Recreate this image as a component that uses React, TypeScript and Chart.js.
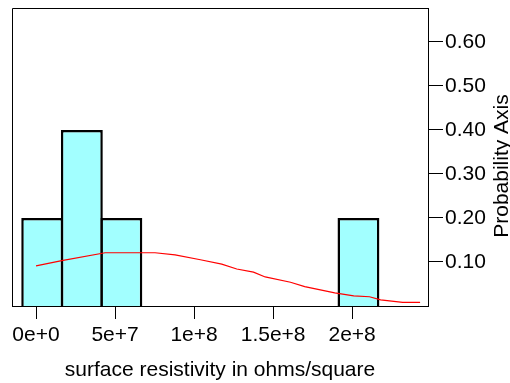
import React, { useEffect, useRef } from "react";
import { Chart, registerables } from "chart.js";
Chart.register(...registerables);

// Histogram bins (centers, equal width) and their probabilities
const binCenters = [3.9e6, 2.9e7, 5.4e7, 2.04e8];
const binProbabilities = [0.2, 0.4, 0.2, 0.2];

// Fitted density curve (scaled to probability axis)
const curveX = [0, 1.63e7, 4.37e7, 7.53e7, 8.8e7, 1.04e8, 1.175e8, 1.27e8, 1.376e8, 1.45e8, 1.61e8, 1.7e8, 1.89e8, 2.01e8, 2.11e8, 2.18e8, 2.32e8, 2.43e8];
const curveY = [0.091, 0.103, 0.121, 0.121, 0.116, 0.105, 0.095, 0.084, 0.077, 0.066, 0.054, 0.044, 0.03, 0.023, 0.021, 0.014, 0.0084, 0.0084];

const xTickValues = [0, 5e7, 1e8, 1.5e8, 2e8];
const xTickLabels = ["0e+0", "5e+7", "1e+8", "1.5e+8", "2e+8"];
const yTickValues = [0.1, 0.2, 0.3, 0.4, 0.5, 0.6];

const xTitle = "surface resistivity in ohms/square";
const yTitle = "Probability Axis";

const FONT = "'Liberation Sans', Arial, sans-serif";

export default function App() {
  const ref = useRef<HTMLCanvasElement>(null);
  useEffect(() => {
    if (!ref.current) return;
    const boxPlugin = {
      id: "box",
      beforeDatasetsDraw(chart: any) {
        const { ctx, chartArea } = chart;
        ctx.save();
        ctx.strokeStyle = "#000";
        ctx.lineWidth = 1;
        ctx.beginPath();
        ctx.moveTo(chartArea.left + 0.5, chartArea.bottom);
        ctx.lineTo(chartArea.left + 0.5, chartArea.top + 0.5);
        ctx.lineTo(chartArea.right, chartArea.top + 0.5);
        ctx.stroke();
        ctx.restore();
      },
      afterDraw(chart: any) {
        const { ctx } = chart;
        ctx.save();
        ctx.translate(508, 166);
        ctx.rotate(-Math.PI / 2);
        ctx.font = `21px ${FONT}`;
        ctx.fillStyle = "#000";
        ctx.textAlign = "center";
        ctx.textBaseline = "alphabetic";
        ctx.fillText(yTitle, 0, 0);
        ctx.restore();
      },
    };
    const chart = new Chart(ref.current, {
      type: "bar",
      data: {
        datasets: [
          {
            type: "line",
            data: curveX.map((x, i) => ({ x, y: curveY[i] })),
            borderColor: "#ff0000",
            borderWidth: 1.2,
            pointRadius: 0,
            tension: 0,
            fill: false,
            order: 0,
          } as any,
          {
            type: "bar",
            data: binCenters.map((x, i) => ({ x, y: binProbabilities[i] })),
            backgroundColor: "#a2ffff",
            borderColor: "#000",
            borderWidth: 2.5,
            barPercentage: 1.06,
            categoryPercentage: 1,
            order: 1,
          } as any,
        ],
      },
      options: {
        animation: false,
        responsive: false,
        maintainAspectRatio: false,
        layout: { padding: { left: 12, top: 8, right: 0, bottom: 0 } },
        plugins: { legend: { display: false }, tooltip: { enabled: false } },
        scales: {
          x: {
            type: "linear",
            min: -1.52e7,
            max: 2.48e8,
            offset: false,
            afterBuildTicks: (s: any) => {
              s.ticks = xTickValues.map((v) => ({ value: v }));
            },
            afterFit: (s: any) => {
              s.height = 77;
              s.paddingLeft = 0;
              s.paddingRight = 0;
            },
            ticks: {
              autoSkip: false,
              maxRotation: 0,
              padding: 4,
              color: "#000",
              font: { family: FONT, size: 21 },
              callback: (v: any, i: number) => xTickLabels[i],
            },
            grid: { offset: false, drawOnChartArea: false, drawTicks: true, tickLength: 13, color: "#000" },
            border: { display: true, color: "#000" },
            title: {
              display: true,
              text: xTitle,
              color: "#000",
              font: { family: FONT, size: 21 },
              padding: { top: 0, bottom: 0 },
            },
          },
          y: {
            type: "linear",
            position: "right",
            min: 0,
            max: 0.677,
            afterBuildTicks: (s: any) => {
              s.ticks = yTickValues.map((v) => ({ value: v }));
            },
            afterFit: (s: any) => {
              s.width = 82;
              s.paddingTop = 0;
              s.paddingBottom = 0;
            },
            ticks: {
              padding: 2,
              color: "#000",
              font: { family: FONT, size: 21 },
              callback: (v: any) => Number(v).toFixed(2),
            },
            grid: { drawOnChartArea: false, drawTicks: true, tickLength: 15, color: "#000" },
            border: { display: true, color: "#000" },
          },
        },
      } as any,
      plugins: [boxPlugin],
    });
    return () => chart.destroy();
  }, []);
  return (
    <div style={{ position: "fixed", left: 0, top: 0, width: 510, height: 383, background: "#fff" }}>
      <canvas ref={ref} width={510} height={383} style={{ width: 510, height: 383 }} />
    </div>
  );
}
